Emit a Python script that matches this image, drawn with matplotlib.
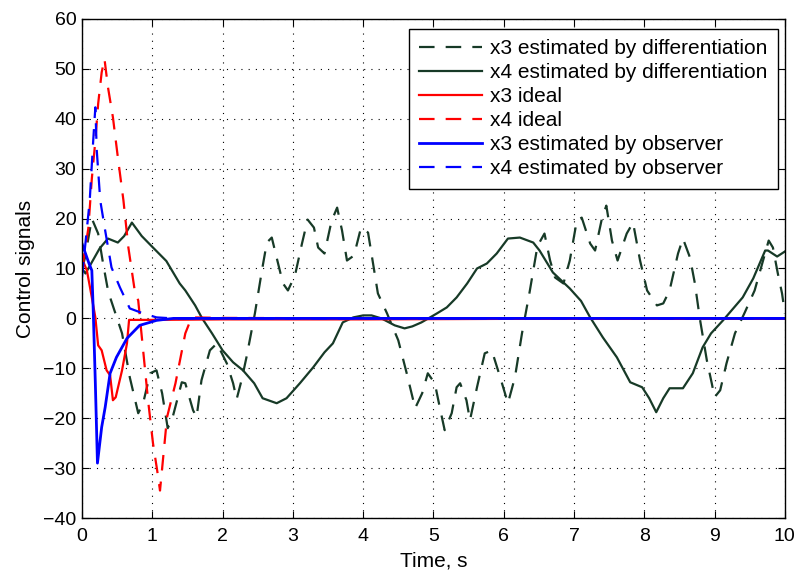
import matplotlib
matplotlib.use("Agg")
import matplotlib.pyplot as plt

plt.rcParams['font.family'] = ['Liberation Sans', 'DejaVu Sans']

# ---- data ----
t_x3_diff = [0, 0.04, 0.14, 0.23, 0.30, 0.37, 0.40, 0.57, 0.68, 0.80, 0.87, 0.97, 1.06, 1.14, 1.22, 1.29,
             1.42, 1.47, 1.58, 1.63, 1.70, 1.82, 1.92, 2.06, 2.15, 2.20, 2.27, 2.34, 2.46, 2.56, 2.63, 2.70,
             2.79, 2.86, 2.93, 3.03, 3.13, 3.21, 3.30, 3.36, 3.45, 3.55, 3.63, 3.70, 3.77, 3.87, 3.97, 4.07,
             4.21, 4.34, 4.50, 4.62, 4.74, 4.84, 4.92, 5.02, 5.09, 5.16, 5.26, 5.33, 5.38, 5.47, 5.52, 5.62,
             5.73, 5.83, 5.95, 6.06, 6.16, 6.26, 6.37, 6.48, 6.58, 6.66, 6.73, 6.85, 6.94, 7.04, 7.11, 7.23,
             7.30, 7.40, 7.46, 7.54, 7.62, 7.75, 7.84, 7.94, 8.04, 8.18, 8.27, 8.36, 8.48, 8.55, 8.65, 8.72,
             8.79, 8.89, 8.96, 9.00, 9.08, 9.17, 9.29, 9.43, 9.57, 9.69, 9.77, 9.83, 9.90, 9.96, 10.0]
x3_diff = [10, 12, 20, 17, 11, 5.6, 4.2, -3, -11.8, -19, -17, -11, -10.4, -15, -22, -19.8,
           -12.8, -13, -18.4, -19.8, -12.4, -6.4, -5, -9, -13, -16.2, -12.4, -7.8, 1, 9.6, 15.2, 16.2,
           11, 7, 5.6, 8.6, 15, 19.8, 18.2, 14.2, 13, 19.5, 22.2, 17.6, 11.6, 12.6, 18.2, 17.2,
           5, 1, -4.4, -11, -18, -15, -11, -13, -17.8, -22.4, -19, -13.8, -13, -16.4, -20.4, -13.8,
           -7, -6.4, -11.8, -17, -11.8, -3, 5.4, 14.5, 17, 11.6, 8.2, 7, 11.6, 19.6, 20.2, 15,
           13.6, 20.2, 22.6, 15.6, 11.6, 17, 19.2, 11.6, 5.6, 2.6, 3, 5.6, 13, 16, 12.2, 7,
           0, -8.4, -13, -15.8, -14.4, -9, -3, 1.2, 5.6, 11.6, 15.6, 14.2, 9, 5, 1]

t_x4_diff = [0, 0.05, 0.15, 0.25, 0.37, 0.51, 0.60, 0.71, 0.85, 1.01, 1.20, 1.39, 1.47, 1.61, 1.71, 1.85,
             2.00, 2.15, 2.29, 2.45, 2.57, 2.77, 2.91, 3.10, 3.29, 3.45, 3.57, 3.71, 3.86, 4.00, 4.12, 4.26,
             4.45, 4.59, 4.70, 4.83, 5.05, 5.19, 5.33, 5.48, 5.62, 5.76, 5.90, 6.06, 6.23, 6.42, 6.51, 6.70,
             6.94, 7.10, 7.23, 7.41, 7.61, 7.80, 7.97, 8.07, 8.17, 8.27, 8.36, 8.55, 8.69, 8.83, 8.95, 9.12,
             9.40, 9.55, 9.72, 9.76, 9.89, 10.0]
x4_diff = [10, 9, 11.5, 14, 16, 15.2, 16.5, 19.2, 16.5, 14.2, 11.5, 7, 5.6, 2.6, 0, -3,
           -6.4, -8.8, -10.4, -13, -16, -17, -16, -13, -9.8, -6.8, -5, -0.8, 0.2, 0.6, 0.6, 0,
           -1.4, -2, -1.6, -0.8, 1, 2.2, 4.2, 7, 10, 11, 13, 16, 16.2, 15.2, 13.6, 9.2,
           6, 3.5, 0.2, -3.8, -7.8, -12.8, -13.8, -16, -18.8, -16, -14, -14, -11, -5.8, -3, -0.4,
           4.2, 8, 13.6, 13.6, 12.4, 13.4]

t_x3_ideal = [0, 0.07, 0.14, 0.19, 0.23, 0.28, 0.35, 0.40, 0.44, 0.48, 0.57, 0.64, 0.67, 1.0, 2.0, 4.0, 6.0, 8.0, 10.0]
x3_ideal = [12, 9.6, 4.2, 0.2, -5.4, -6.4, -10.4, -11.4, -16.4, -15.8, -10.4, -5, -0.3, -0.3, -0.2, -0.2, -0.1, -0.1, -0.1]

t_x4_ideal = [0, 0.09, 0.14, 0.19, 0.23, 0.28, 0.32, 0.37, 0.44, 0.51, 0.59, 0.66, 0.75, 0.80, 0.87, 0.94,
              1.01, 1.07, 1.11, 1.21, 1.33, 1.47, 1.56, 2.0, 4.0, 6.0, 8.0, 10.0]
x4_ideal = [10, 18, 28, 35.6, 43, 49.3, 52, 46.3, 40.3, 32.3, 23.6, 14.2, 5.6, 3.6, -6.4, -16.4,
            -25, -30.5, -34.5, -19.8, -13, -3, 0.2, 0.1, 0, 0, 0, 0]

t_x3_obs = [0, 0.10, 0.14, 0.16, 0.19, 0.22, 0.28, 0.33, 0.40, 0.49, 0.64, 0.82, 1.06, 1.3, 2.0, 4.0, 6.0, 8.0, 10.0]
x3_obs = [15, 11, 9.6, 1.6, -13, -29, -21.8, -17.8, -11, -7.8, -4, -1.4, -0.4, 0, 0, 0, 0, 0, 0]

t_x4_obs = [0, 0.11, 0.16, 0.19, 0.21, 0.26, 0.33, 0.42, 0.54, 0.68, 0.87, 1.06, 1.3, 2.0, 4.0, 6.0, 8.0, 10.0]
x4_obs = [8.2, 23.6, 35.7, 42.3, 33.7, 23.6, 17.6, 10.2, 6.2, 2, 1, 0.2, 0, 0, 0, 0, 0, 0]

labels = ["x3 estimated by differentiation", "x4 estimated by differentiation",
          "x3 ideal", "x4 ideal", "x3 estimated by observer", "x4 estimated by observer"]

x_ticks = list(range(0, 11))
y_ticks = list(range(-40, 61, 10))

# ---- plot ----
fig = plt.figure(figsize=(7.96, 5.72), dpi=100)
ax = fig.add_axes([0.103, 0.0944, 0.883, 0.8724])

green = '#173a27'
dash = (0, (7, 5))
ax.plot(t_x3_diff, x3_diff, color=green, lw=1.6, linestyle=dash, label=labels[0])
ax.plot(t_x4_diff, x4_diff, color=green, lw=1.6, label=labels[1])
ax.plot(t_x3_ideal, x3_ideal, color='#ff0000', lw=1.6, label=labels[2])
ax.plot(t_x4_ideal, x4_ideal, color='#ff0000', lw=1.6, linestyle=dash, label=labels[3])
ax.plot(t_x3_obs, x3_obs, color='#0000ff', lw=2.0, label=labels[4])
ax.plot(t_x4_obs, x4_obs, color='#0000ff', lw=1.6, linestyle=dash, label=labels[5])

ax.set_xlim(0, 10)
ax.set_ylim(-40, 60)
ax.set_xticks(x_ticks)
ax.set_yticks(y_ticks)
ax.grid(True, color='black', linestyle=(0, (1, 5.5)), linewidth=0.8)
ax.tick_params(direction='in', top=True, right=True, length=5, labelsize=14)
ax.tick_params(axis='x', pad=7)
ax.tick_params(axis='y', pad=4)
for s in ax.spines.values():
    s.set_linewidth(1.0)
ax.set_xlabel("Time, s", fontsize=15, labelpad=5)
ax.set_ylabel("Control signals", fontsize=15, labelpad=6)

leg = ax.legend(loc='upper right', bbox_to_anchor=(0.990, 0.980), borderaxespad=0,
                fontsize=15, handlelength=3.0, labelspacing=0.24, handletextpad=0.4,
                fancybox=False, framealpha=1, edgecolor='black', borderpad=0.5)
leg.get_frame().set_linewidth(1.0)

fig.savefig("out.png", dpi=100)
